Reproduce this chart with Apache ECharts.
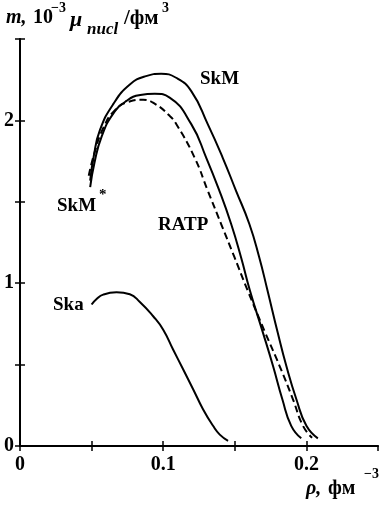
<!DOCTYPE html>
<html>
<head>
<meta charset="utf-8">
<script src="https://cdn.jsdelivr.net/npm/echarts@6/dist/echarts.min.js"></script>
<style>
  html, body { margin: 0; padding: 0; background: #fff; }
  #chart { width: 380px; height: 505px; }
</style>
</head>
<body>
<div id="chart"></div>
<script>
// данные: [rho, m]
const skm = [
  [0.049, 1.63], [0.0515, 1.78], [0.0558, 1.94], [0.0651, 2.10], [0.0767, 2.22],
  [0.088, 2.272], [0.0985, 2.286], [0.109, 2.262], [0.1196, 2.18], [0.1311, 1.977],
  [0.1415, 1.772], [0.1508, 1.569], [0.1601, 1.365], [0.1670, 1.161], [0.1728, 0.957],
  [0.180, 0.695], [0.186, 0.491], [0.193, 0.287], [0.200, 0.124], [0.208, 0.047]
]
const skmStar = [
  [0.049, 1.59], [0.052, 1.74], [0.057, 1.90], [0.065, 2.04], [0.0744, 2.12],
  [0.084, 2.156], [0.0941, 2.163], [0.1045, 2.14], [0.1196, 1.977], [0.1300, 1.772],
  [0.1392, 1.569], [0.1474, 1.365], [0.1543, 1.161], [0.1605, 0.957], [0.1697, 0.695],
  [0.1767, 0.491], [0.1832, 0.287], [0.1894, 0.124], [0.1964, 0.047]
]
const ratp = [
  [0.048, 1.66], [0.052, 1.80], [0.058, 1.95], [0.066, 2.06], [0.076, 2.115],
  [0.086, 2.127], [0.0945, 2.10], [0.1045, 2.028], [0.1092, 1.977], [0.1219, 1.772],
  [0.1311, 1.569], [0.1404, 1.365], [0.1497, 1.161], [0.1589, 0.957], [0.1713, 0.695],
  [0.1813, 0.491], [0.1906, 0.287], [0.1976, 0.124], [0.204, 0.05]
]
const ska = [
  [0.050, 0.869], [0.0535, 0.903], [0.0581, 0.930], [0.0674, 0.944], [0.0767, 0.932],
  [0.0837, 0.885], [0.093, 0.797], [0.0999, 0.716], [0.1069, 0.593], [0.1139, 0.471],
  [0.1209, 0.349], [0.1278, 0.226], [0.1348, 0.124], [0.1395, 0.07], [0.1453, 0.032]
]
const xTickLabels = ['0', '0.1', '0.2']
const yTickLabels = ['0', '1', '2']

const FONT = 'Liberation Serif'
const chart = echarts.init(document.getElementById('chart'))

const lineStyle = { color: '#000', width: 2 }
const mkSeries = (name, data, dashed) => ({
  name,
  type: 'line',
  data,
  smooth: 0.5,
  showSymbol: false,
  silent: true,
  lineStyle: dashed ? { ...lineStyle, type: [7, 4] } : lineStyle
})

const txt = (x, y, text, size, extra = {}) => ({
  type: 'text',
  left: x,
  top: y,
  style: {
    text,
    font: `bold ${size}px "${FONT}"`,
    fill: '#000',
    ...extra
  }
})

const option = {
  animation: false,
  grid: { left: 20, right: 2, top: 39, bottom: 59 },
  xAxis: [{
    type: 'value', min: 0, max: 0.25, interval: 0.05,
    axisLine: { lineStyle: { color: '#000', width: 2 } },
    axisTick: { inside: true, length: 5, lineStyle: { color: '#000', width: 1.5 } },
    splitLine: { show: false },
    axisLabel: {
      margin: 9, color: '#000', fontFamily: FONT, fontWeight: 'bold', fontSize: 20,
      showMaxLabel: false,
      formatter: v => {
        const i = Math.round(v * 10)
        return Math.abs(v * 10 - i) < 1e-6 ? xTickLabels[i] || '' : ''
      }
    }
  }, {
    type: 'value', position: 'top', min: 0, max: 0.25, interval: 0.05,
    axisLine: { show: true, lineStyle: { color: '#000', width: 1.5 } },
    axisTick: { inside: true, length: 5, lineStyle: { color: '#000', width: 1.5 } },
    axisLabel: { show: false }, splitLine: { show: false }
  }],
  yAxis: [{
    type: 'value', min: 0, max: 2.5, interval: 0.5,
    axisLine: { show: true, lineStyle: { color: '#000', width: 2 } },
    axisTick: { show: true, inside: true, length: 5, lineStyle: { color: '#000', width: 1.5 } },
    splitLine: { show: false },
    axisLabel: {
      margin: 6, color: '#000', fontFamily: FONT, fontWeight: 'bold', fontSize: 20,
      formatter: v => (Math.abs(v - Math.round(v)) < 1e-6 ? yTickLabels[Math.round(v)] || '' : '')
    }
  }, {
    type: 'value', position: 'right', min: 0, max: 2.5, interval: 0.5,
    axisLine: { show: true, lineStyle: { color: '#000', width: 1.5 } },
    axisTick: { show: true, inside: true, length: 5, lineStyle: { color: '#000', width: 1.5 } },
    axisLabel: { show: false }, splitLine: { show: false }
  }],
  series: [
    mkSeries('SkM', skm, false),
    mkSeries('SkM*', skmStar, false),
    mkSeries('RATP', ratp, true),
    mkSeries('Ska', ska, false)
  ],
  graphic: [
    // подпись оси y
    txt(6, 8, 'm,', 20, { font: `bold italic 20px "${FONT}"` }),
    txt(33, 8, '10', 20),
    txt(51, 1, '−3', 14),
    txt(70, 9, 'μ', 22, { font: `bold italic 22px "${FONT}"` }),
    txt(87, 21, 'nucl', 17, { font: `bold italic 17px "${FONT}"` }),
    txt(124, 8, '/фм', 21),
    txt(162, 1, '3', 14),
    // подпись оси x
    txt(306, 479, 'ρ,', 20, { font: `bold italic 20px "${FONT}"` }),
    txt(328, 479, 'фм', 20),
    txt(364, 467, '−3', 14),
    // названия кривых
    txt(200, 70, 'SkM', 19),
    txt(57, 197, 'SkM', 19),
    txt(99, 188, '*', 15),
    txt(158, 216, 'RATP', 19),
    txt(53, 296, 'Ska', 19)
  ]
}
chart.setOption(option)
</script>
</body>
</html>
